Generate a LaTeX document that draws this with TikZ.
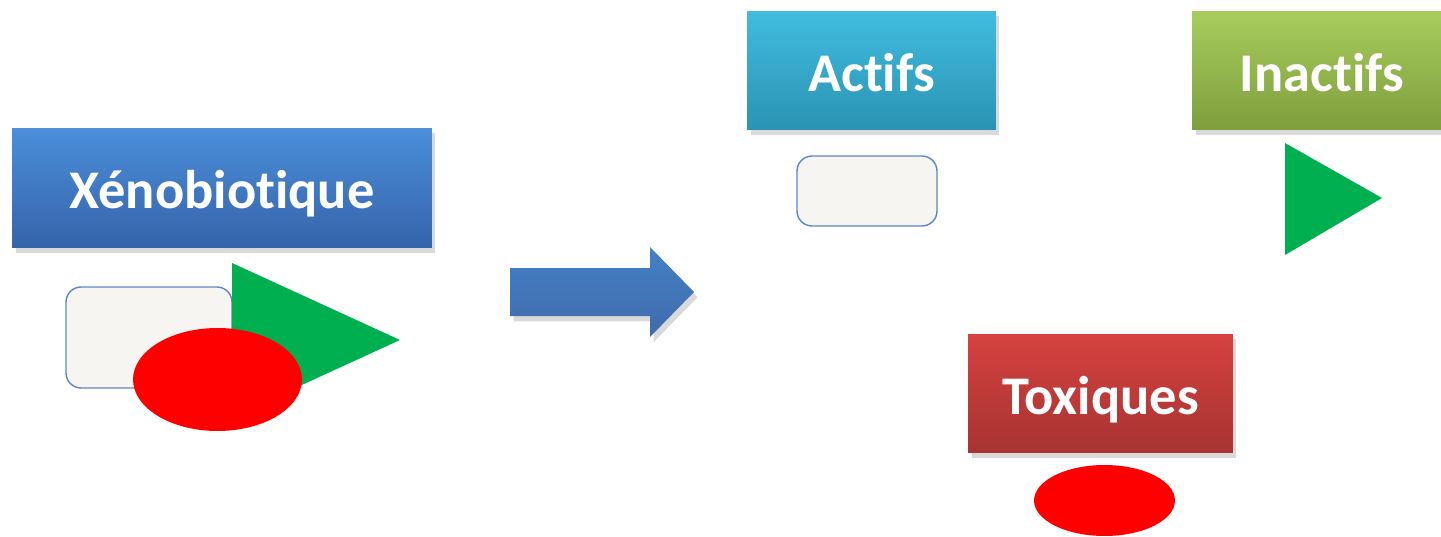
\documentclass[tikz,border=0pt]{standalone}
\usepackage{fontspec}
\setmainfont[Ligatures={NoCommon,NoRequired,NoContextual}]{Carlito}
\usetikzlibrary{shapes.geometric,shadows}
\definecolor{xenotop}{HTML}{4B8EDA}
\definecolor{xenobot}{HTML}{3564A9}
\definecolor{acttop}{HTML}{41BCDF}
\definecolor{actbot}{HTML}{2A93B3}
\definecolor{inacttop}{HTML}{A8CD5C}
\definecolor{inactbot}{HTML}{7E9D3D}
\definecolor{toxtop}{HTML}{D6423F}
\definecolor{toxbot}{HTML}{A63332}
\definecolor{trigreen}{HTML}{00B050}
\definecolor{paleFill}{HTML}{F6F5F2}
\definecolor{paleLine}{HTML}{5B87C5}
\begin{document}
\begin{tikzpicture}[x=0.02cm, y=-0.02cm]
      \tikzstyle{box}=[rectangle, minimum height=2.38cm, text=white,
        font=\fontsize{31}{36}\selectfont\bfseries,
        text height=28pt, text depth=4.6pt,
        drop shadow={shadow xshift=2pt, shadow yshift=-3pt, opacity=.3}]
      \tikzstyle{pale}=[rectangle, rounded corners=0.3cm, fill=paleFill,
        draw=paleLine, line width=0.8pt, inner sep=0pt]
      \tikzstyle{blob}=[ellipse, fill=red, inner sep=0pt]
      \useasboundingbox (0,0) rectangle (1441,537);
      % left group
      \node[box, minimum width=8.4cm, minimum height=2.4cm, top color=xenotop, bottom color=xenobot] (xeno) at (222,188) {Xénobiotique};
      \node[pale, minimum width=3.32cm, minimum height=2.02cm] (xrect) at (149,337.5) {};
      \fill[trigreen] (232,263) -- (400,340) -- (232,417) -- cycle;
      \node[blob, minimum width=3.38cm, minimum height=2.06cm] (xblob) at (217.5,379.5) {};
      % block arrow
      \shade[top color=xenotop!90!black, bottom color=xenobot!95!white,
        drop shadow={shadow xshift=2pt, shadow yshift=-3pt, opacity=.3}]
        (510,268) -- (650,268) -- (650,247) -- (694,292) -- (650,337) -- (650,316) -- (510,316) -- cycle;
      % products
      \node[box, minimum width=4.98cm, top color=acttop, bottom color=actbot] (actifs) at (871.5,70.5) {Actifs};
      \node[pale, minimum width=2.8cm, minimum height=1.4cm] (arect) at (867,191) {};
      \node[box, minimum width=5.2cm, top color=inacttop, bottom color=inactbot] (inactifs) at (1322,70.5) {Inactifs};
      \fill[trigreen] (1285,143) -- (1382,198) -- (1285,255) -- cycle;
      \node[box, minimum width=5.3cm, top color=toxtop, bottom color=toxbot] (toxiques) at (1100.5,393.5) {Toxiques};
      \node[blob, minimum width=2.82cm, minimum height=1.42cm] (tblob) at (1104.5,500.5) {};
    \end{tikzpicture}
\end{document}
